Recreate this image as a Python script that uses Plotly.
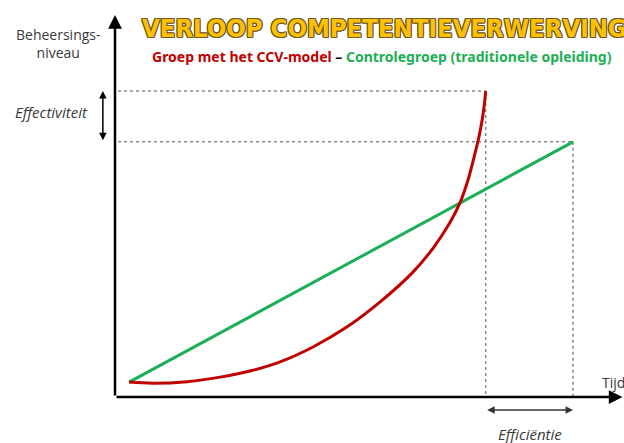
import plotly.graph_objects as go

# Data (arbitrary units: time 0-100, level 0-100)
red_t = [2.8, 7.5, 14.3, 20.8, 27.3, 32.7, 39.2, 45.9, 52.5, 59.0, 63.0, 66.3,
         68.3, 69.9, 71.1, 72.1, 72.7, 73.1, 73.4]
red_v = [3.9, 3.6, 4.0, 5.2, 7.0, 9.2, 13.1, 18.3, 24.9, 32.7, 39.0, 45.6,
         50.8, 56.8, 62.8, 68.3, 72.5, 76.2, 80.1]
green_t = [2.8, 90.7]
green_v = [3.9, 66.8]

title = "VERLOOP COMPETENTIEVERWERVING"
sub_red = "Groep met het CCV-model"
sub_green = "Controlegroep (traditionele opleiding)"
y_label = "Beheersings-<br>niveau"
x_label = "Tijd"
eff_label = "Effectiviteit"
effi_label = "Efficiëntie"

RED = "#C00000"
GREEN = "#1DAF55"

fig = go.Figure()
fig.add_trace(go.Scatter(x=green_t, y=green_v, mode="lines",
                         line=dict(color=GREEN, width=3), hoverinfo="skip"))
fig.add_trace(go.Scatter(x=red_t, y=red_v, mode="lines",
                         line=dict(color=RED, width=3, shape="spline", smoothing=1.0),
                         hoverinfo="skip"))

red_end_t, red_end_v = red_t[-1], red_v[-1]
gr_end_t, gr_end_v = green_t[-1], green_v[-1]

dash = dict(color="#8a8a8a", width=1.5, dash="dot")
for (t, v) in [(red_end_t, red_end_v), (gr_end_t, gr_end_v)]:
    fig.add_shape(type="line", x0=0.6, x1=t, y0=v, y1=v, line=dash, layer="below")
    fig.add_shape(type="line", x0=t, x1=t, y0=v, y1=0, line=dash, layer="below")

ann = []
# axes arrows
ann.append(dict(x=0, y=100, ax=0, ay=0, xref="x", yref="y", axref="x", ayref="y",
                showarrow=True, arrowhead=2, arrowsize=1.1, arrowwidth=2.5,
                arrowcolor="black", text=""))
ann.append(dict(x=100.5, y=0, ax=0, ay=0, xref="x", yref="y", axref="x", ayref="y",
                showarrow=True, arrowhead=2, arrowsize=1.1, arrowwidth=2.5,
                arrowcolor="black", text=""))
# effectiviteit arrow
ann.append(dict(x=-2.4, y=red_end_v, ax=-2.4, ay=gr_end_v, xref="x", yref="y",
                axref="x", ayref="y", showarrow=True, arrowhead=2, startarrowhead=2,
                arrowside="end+start", arrowsize=1, startarrowsize=1, arrowwidth=1.5,
                arrowcolor="black", text=""))
# efficiëntie arrow
ann.append(dict(x=gr_end_t, y=-3.4, ax=red_end_t, ay=-3.4, xref="x", yref="y",
                axref="x", ayref="y", showarrow=True, arrowhead=2, startarrowhead=2,
                arrowside="end+start", arrowsize=1, startarrowsize=1, arrowwidth=1.5,
                arrowcolor="#333333", text=""))

txtfont = dict(family="Open Sans, Noto Sans, sans-serif", size=14, color="#3a3a3a")
itfont = dict(family="Open Sans, Noto Sans, sans-serif", size=15, color="#3a3a3a")
ann.append(dict(x=58, y=400, xref="paper", yref="paper", text=y_label, showarrow=False,
                font=txtfont, xanchor="center", yanchor="middle"))
ann.append(dict(x=51, y=331, xref="paper", yref="paper",
                text="<i>" + eff_label + "</i>", showarrow=False,
                font=itfont, xanchor="center", yanchor="middle"))
ann.append(dict(x=530, y=9, xref="paper", yref="paper",
                text="<i>" + effi_label + "</i>", showarrow=False,
                font=itfont, xanchor="center", yanchor="middle"))
ann.append(dict(x=600, y=61, xref="paper", yref="paper", text=x_label, showarrow=False,
                font=txtfont, xanchor="left", yanchor="middle"))

outline = "#6b5a2a"
shadow = ",".join(f"{dx}px {dy}px 0 {outline}" for dx, dy in
                  [(-1, -1), (1, -1), (-1, 1), (1, 1), (0, 1), (1, 0), (-1, 0), (0, -1)])
ann.append(dict(x=140, y=415, xref="paper", yref="paper", text="<b>" + title + "</b>",
                showarrow=False, xanchor="left", yanchor="middle",
                font=dict(family="DejaVu Sans Condensed, sans-serif",
                          size=25.5, color="#FFC000", shadow=shadow)))
ann.append(dict(x=382, y=386, xref="paper", yref="paper",
                text=(f"<b><span style='color:{RED}'>{sub_red}</span>"
                      f"<span style='color:#111'> – </span>"
                      f"<span style='color:{GREEN}'>{sub_green}</span></b>"),
                showarrow=False, xanchor="center", yanchor="middle",
                font=dict(family="Noto Sans, sans-serif", size=14)))

# convert paper-pixel annotations to paper fractions
W, H = 624, 443
for a in ann:
    if a.get("xref") == "paper":
        a["x"] = a["x"] / W
        a["y"] = a["y"] / H

fig.update_layout(
    width=W, height=H,
    margin=dict(l=0, r=0, t=0, b=0),
    paper_bgcolor="white", plot_bgcolor="white",
    showlegend=False,
    xaxis=dict(range=[-22.77, 100.79], visible=False, fixedrange=True),
    yaxis=dict(range=[-12.04, 103.93], visible=False, fixedrange=True),
    annotations=ann,
)
fig.write_html("out.html", config={"displayModeBar": False},
               post_script="document.body.style.margin='0';document.body.style.overflow='hidden';")
